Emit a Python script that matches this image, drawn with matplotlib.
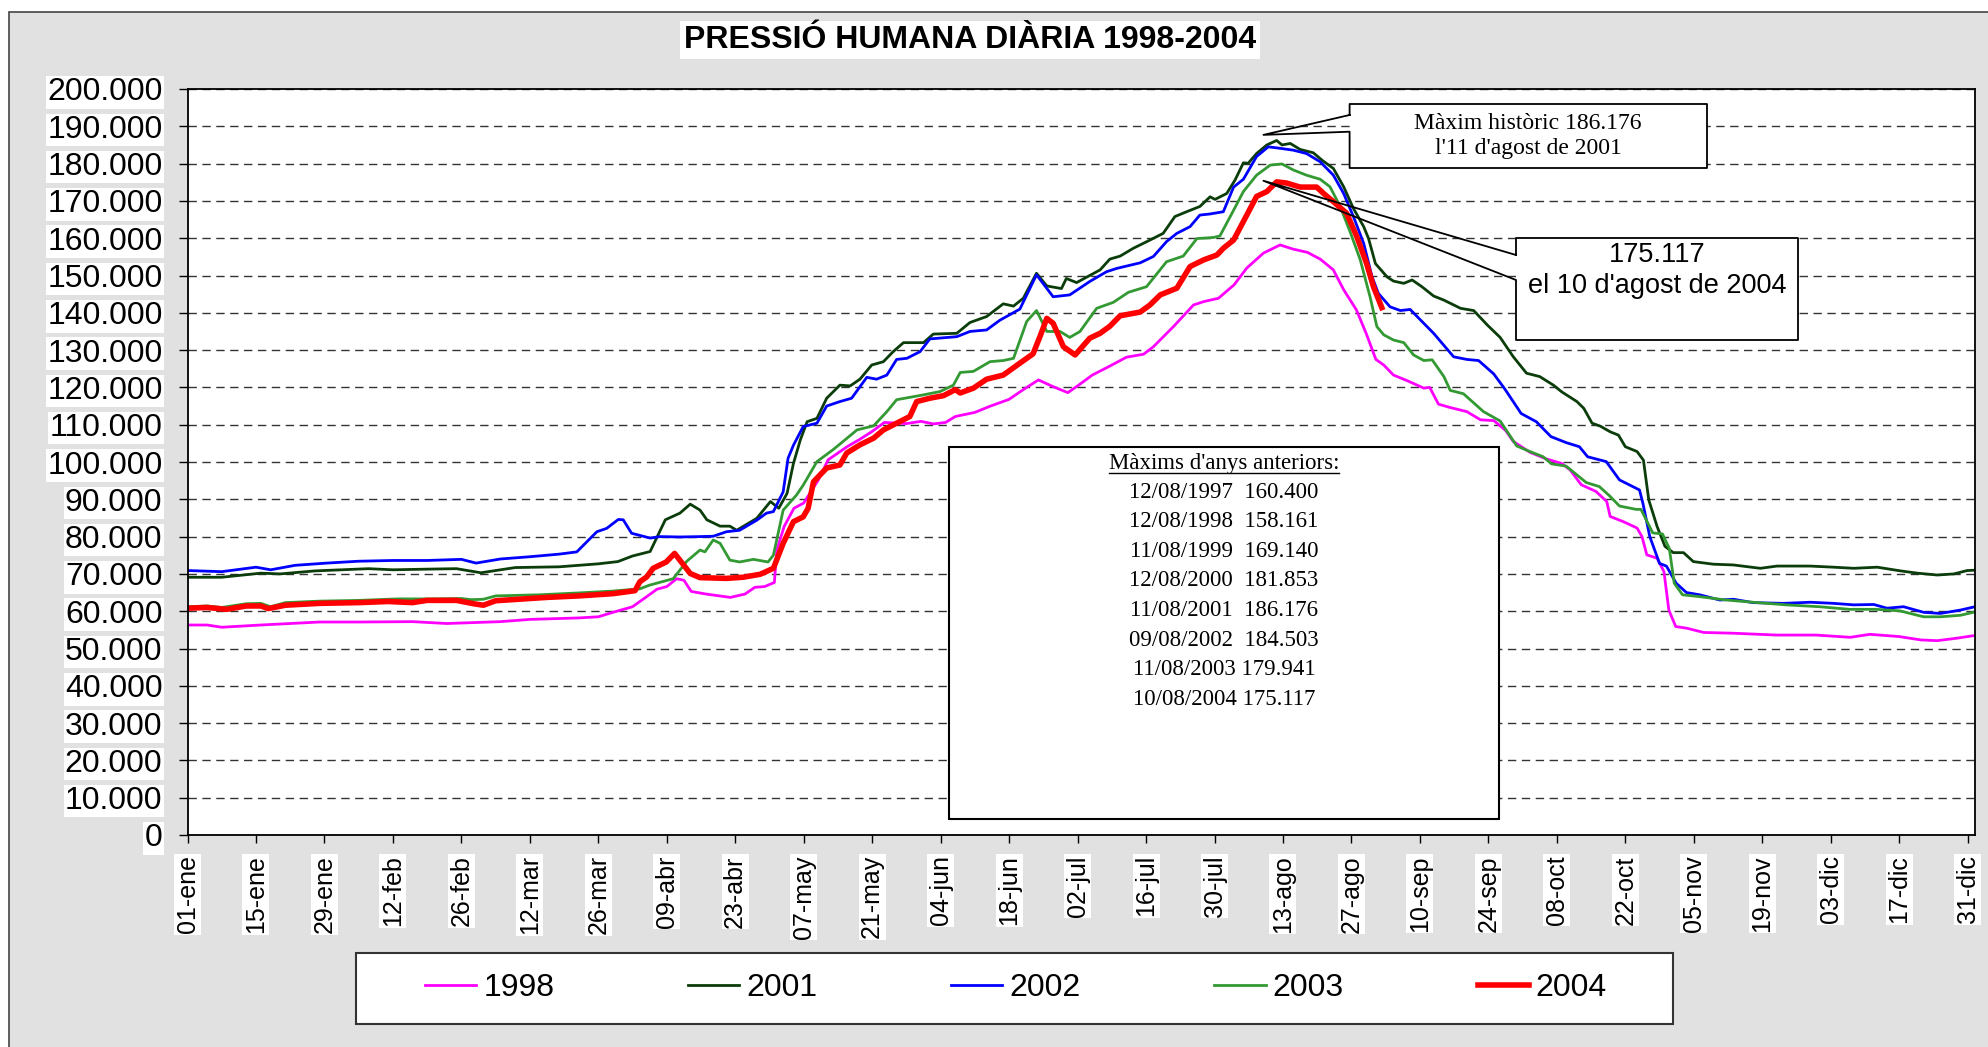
import matplotlib
matplotlib.use("Agg")
import matplotlib.pyplot as plt
from matplotlib.patches import Rectangle
from matplotlib.lines import Line2D
from matplotlib.transforms import Affine2D
from matplotlib.ticker import FuncFormatter

plt.rcParams['font.family'] = ['Liberation Sans', 'DejaVu Sans']
SERIF = ['Liberation Serif', 'DejaVu Serif']

# --- data: (day of year, thousands of people) ---
s1998 = [(0, 56.3), (4, 56.3), (7, 55.7), (15, 56.3), (21, 56.7), (27, 57.1), (35, 57.1), (46, 57.2),
         (53, 56.7), (64, 57.2), (70, 57.8), (80, 58.2), (84, 58.5), (87, 59.7), (91, 61.2), (94, 64.0),
         (96, 65.9), (98, 66.6), (100, 68.7), (101.5, 68.3), (103, 65.3), (106, 64.6), (111, 63.7),
         (114, 64.6), (116, 66.4), (118, 66.6), (120, 67.7), (120.5, 76.4), (122, 82.7), (124, 87.6),
         (126, 89.0), (129, 95.2), (131, 100.6), (135, 104.2), (137.5, 106.1), (140, 108.2), (142.5, 110.6),
         (147, 110.3), (150, 110.9), (152.5, 110.2), (155, 110.6), (157, 112.2), (161, 113.3), (164, 114.9),
         (168, 116.8), (171, 119.5), (174, 122.0), (177, 120.2), (180, 118.6), (182, 120.4), (185, 123.3),
         (189, 126.0), (192, 128.1), (195.5, 128.9), (197.5, 130.9), (201.6, 136.3), (205.7, 142.1),
         (207.8, 143.0), (210.8, 143.9), (214, 147.5), (216.6, 152.0), (220, 156.0), (223.4, 158.2),
         (226, 157.1), (229, 156.2), (231.6, 154.4), (234.3, 151.5), (236.4, 146.2), (239, 140.8),
         (241, 134.5), (243, 127.5), (244.6, 126.0), (246.6, 123.3), (249.4, 121.8), (252.8, 119.8),
         (254, 120.0), (255.8, 115.5), (258.2, 114.6), (261.6, 113.5), (264.4, 111.3), (267.1, 111.1),
         (269.5, 108.5), (271.1, 105.5), (274.5, 102.6), (277.9, 100.8), (281, 99.6), (282.7, 97.9),
         (285, 93.9), (288, 92.1), (290.2, 89.4), (290.9, 85.4), (293.6, 84.0), (296.4, 82.3), (297.4, 80.0),
         (298.4, 75.1), (300.5, 74.2), (301.9, 70.6), (302.9, 60.3), (304.3, 55.9), (306.7, 55.4),
         (310, 54.3), (316, 54.1), (325, 53.6), (333, 53.6), (340, 53.0), (344, 53.8), (350, 53.2),
         (354.4, 52.3), (357.8, 52.1), (362, 52.8), (365, 53.4)]

s2001 = [(0, 69.1), (7, 69.1), (15, 70.2), (19, 70.0), (26, 70.8), (37, 71.4), (42, 71.1), (50, 71.3),
         (55, 71.4), (60, 70.3), (67, 71.7), (76, 71.9), (84, 72.7), (88, 73.3), (91, 74.8), (94.6, 76.0),
         (97.7, 84.5), (100.7, 86.3), (102.8, 88.7), (104.8, 87.1), (106.2, 84.5), (108.9, 82.8),
         (110.9, 82.8), (112.3, 81.7), (116.4, 84.9), (119.2, 89.4), (120.9, 87.6), (122.6, 91.6),
         (123.9, 99.6), (125.3, 105.9), (126.7, 110.8), (128.7, 111.7), (130.7, 117.1), (133.4, 120.6),
         (135.5, 120.4), (137.5, 122.2), (139.9, 126.0), (142.3, 126.9), (144.3, 129.6), (146.4, 132.0),
         (150.5, 132.0), (152.5, 134.3), (157.3, 134.5), (160, 137.4), (163.4, 139.0), (166.8, 142.4),
         (168.9, 141.8), (170.9, 143.9), (173.6, 150.6), (175.7, 147.2), (178.7, 146.5), (179.7, 149.2),
         (181.8, 148.1), (186.6, 151.5), (188.6, 154.4), (190.7, 155.2), (193.4, 157.3), (196.8, 159.5),
         (199.5, 161.3), (201.9, 165.8), (204.3, 167.1), (207, 168.5), (209.1, 171.1), (210.1, 170.4),
         (212.5, 172.0), (214.2, 175.6), (215.9, 180.2), (216.9, 180.1), (218.6, 182.7), (220.7, 185.0),
         (222.7, 186.2), (223.8, 185.0), (225.5, 185.4), (227.5, 183.8), (230.2, 182.9), (232, 180.9),
         (234.3, 178.7), (236.4, 173.8), (238.4, 168.0), (240.5, 163.1), (241.5, 159.9), (242.9, 153.2),
         (245.3, 149.6), (246.6, 148.5), (248.7, 147.9), (250.4, 148.8), (252.4, 147.0), (254.8, 144.5),
         (256.9, 143.4), (260.3, 141.2), (263, 140.6), (265.8, 136.7), (268.4, 133.4), (271.1, 128.2),
         (273.8, 123.8), (276.5, 122.9), (279.3, 120.6), (281, 118.8), (284.1, 116.2), (285.5, 114.4),
         (287.2, 110.4), (288.9, 109.6), (290.9, 108.1), (292.6, 107.2), (294, 104.1), (296.4, 102.8),
         (297.7, 100.5), (298.8, 89.8), (300.5, 82.7), (302.1, 77.4), (303.8, 75.7), (305.9, 75.7),
         (307.9, 73.3), (312, 72.6), (316.1, 72.4), (321.6, 71.5), (325, 72.1), (331.8, 72.1), (336.6, 71.8),
         (340.7, 71.5), (345.5, 71.8), (350.3, 70.8), (353.7, 70.2), (357.8, 69.7), (361.2, 70.0),
         (363.9, 70.9), (365.5, 71.0)]

s2002 = [(0, 70.9), (7, 70.6), (14, 71.8), (17, 71.1), (22, 72.3), (28.5, 72.9), (35, 73.4), (42, 73.6),
         (49, 73.6), (56, 73.9), (59, 72.9), (64, 74.0), (70, 74.6), (76, 75.3), (79.6, 75.9), (83.7, 81.3),
         (85.7, 82.2), (88.1, 84.6), (89.1, 84.5), (90.8, 80.9), (94.6, 79.6), (96.6, 80.0), (100.7, 79.9),
         (104.8, 80.0), (107.5, 80.1), (110.2, 81.3), (112.9, 81.7), (116.4, 84.4), (118.4, 86.3),
         (119.8, 86.7), (121.8, 92.0), (122.8, 101.0), (123.9, 104.5), (125.9, 109.5), (128.7, 110.4),
         (130.7, 115.0), (133.4, 116.2), (135.8, 117.1), (138.9, 122.7), (140.9, 122.2), (143, 123.3),
         (145, 127.5), (147.1, 127.8), (149.8, 129.6), (151.8, 133.0), (157.3, 133.6), (160, 135.0),
         (163.4, 135.4), (166.1, 138.0), (170.2, 141.0), (173.6, 150.2), (177, 144.3), (180.4, 144.8),
         (184.5, 148.4), (187.9, 151.0), (190, 151.9), (194.8, 153.4), (197.5, 155.1), (200.2, 159.1),
         (202.3, 161.3), (205, 163.1), (207, 166.2), (209.1, 166.5), (211.8, 167.1), (213.9, 173.7),
         (215.9, 175.8), (218.6, 181.9), (221, 184.5), (223.4, 184.1), (226.1, 183.6), (228.8, 182.7),
         (231.6, 180.5), (234.3, 176.9), (236.4, 172.0), (238.4, 165.8), (240.5, 158.6), (242.2, 149.7),
         (243.5, 145.2), (245.9, 141.6), (248, 140.6), (250, 140.9), (252.1, 138.1), (254.8, 134.5),
         (258.9, 128.2), (261.6, 127.5), (264, 127.2), (267.1, 123.6), (269.4, 119.5), (272.7, 113.0),
         (275.8, 110.8), (278.8, 106.8), (281.9, 105.2), (284.6, 104.1), (286.3, 101.4), (290.1, 100.1),
         (292.8, 95.2), (296.9, 92.5), (297.6, 88.9), (299, 80.0), (301, 72.8), (302.4, 72.1), (304.4, 67.5),
         (306.5, 65.0), (309.2, 64.4), (313.3, 63.0), (316.1, 63.2), (320.1, 62.3), (326.3, 62.1),
         (331.8, 62.4), (336.6, 62.1), (340.7, 61.7), (344.8, 61.8), (347.5, 60.8), (350.9, 61.2),
         (355, 59.7), (358.4, 59.4), (362.5, 60.3), (365.5, 61.2)]

s2003 = [(0, 61.2), (4, 61.4), (7, 61.0), (12, 62.0), (15, 62.1), (17, 61.2), (20, 62.3), (27, 62.7),
         (35, 62.9), (43, 63.3), (50, 63.3), (56, 63.4), (58, 63.1), (60.5, 63.2), (63, 64.1), (72, 64.4),
         (80, 64.9), (87, 65.4), (92.5, 66.0), (94.5, 67.0), (99.3, 68.7), (102.1, 73.4), (104.8, 76.4),
         (105.8, 75.9), (107.5, 79.1), (108.9, 78.2), (110.9, 73.7), (112.9, 73.2), (115.7, 73.9),
         (118.7, 73.2), (119.8, 75.0), (121.8, 87.1), (124.5, 91.1), (125.9, 93.8), (128.7, 100.1),
         (132.1, 103.4), (136.9, 108.6), (140.3, 109.7), (143, 113.5), (145, 116.7), (150.5, 118.0),
         (153.9, 118.9), (156.6, 120.6), (158, 124.0), (160.7, 124.3), (164.1, 126.9), (166.8, 127.2),
         (168.9, 127.8), (171.6, 137.7), (173.6, 140.6), (175.7, 135.0), (178.4, 135.0), (180.4, 133.4),
         (182.5, 135.0), (185.9, 141.2), (189.3, 142.8), (192.4, 145.5), (196.1, 147.0), (200.2, 153.7),
         (203.6, 155.2), (206.4, 159.9), (209.8, 160.2), (211.1, 160.6), (213.9, 167.5), (215.9, 172.5),
         (218.6, 176.9), (221.4, 179.6), (223.8, 179.9), (226.1, 178.3), (228.8, 176.9), (231.6, 175.8),
         (233.6, 173.8), (235.7, 168.5), (237.7, 161.8), (239.8, 154.2), (241.8, 144.3), (243.2, 136.3),
         (244.6, 134.1), (246.6, 132.7), (248.7, 132.0), (250.7, 128.7), (252.8, 127.2), (254.5, 127.4),
         (256.9, 122.9), (258.2, 119.2), (260.9, 118.3), (265, 113.5), (268.4, 111.0), (271.8, 104.3),
         (274.5, 102.8), (277.2, 101.4), (278.9, 99.5), (281.9, 98.9), (286, 94.5), (288.7, 93.4),
         (290.8, 90.9), (292.8, 88.2), (296.2, 87.3), (297.2, 87.3), (299.6, 81.0), (301.6, 80.7),
         (303, 76.8), (304, 67.5), (305.7, 64.4), (309.2, 63.9), (314.6, 63.0), (320.1, 62.4), (326.9, 61.7),
         (333.7, 61.2), (339.9, 60.5), (345.3, 60.5), (350.1, 60.1), (355, 58.5), (358.4, 58.5),
         (362.5, 58.9), (365.5, 59.8)]

s2004 = [(0, 60.8), (4, 61.0), (8, 60.5), (12, 61.4), (15, 61.4), (16.5, 60.7), (20, 61.6), (27, 62.1),
         (35, 62.3), (41, 62.6), (46, 62.3), (49, 62.9), (55, 62.9), (58.5, 62.0), (60.5, 61.6), (63, 62.8),
         (73.5, 63.7), (80, 64.1), (87, 64.7), (91.5, 65.5), (92.5, 67.9), (93.9, 69.2), (95.2, 71.5),
         (97.9, 73.2), (99.6, 75.5), (102.8, 70.1), (104.8, 69.0), (110.2, 68.8), (113.6, 69.1), (117.1, 69.9),
         (119.8, 71.5), (121.8, 78.2), (123.9, 84.0), (125.9, 85.3), (126.9, 87.6), (128, 94.7), (130.7, 98.4),
         (133.4, 99.2), (134.8, 102.4), (137.5, 104.6), (140.3, 106.4), (142.3, 108.6), (145, 110.4),
         (147.7, 112.2), (149.1, 116.2), (151.8, 117.1), (154.6, 117.8), (157, 119.4), (158, 118.5),
         (160.7, 119.8), (163.4, 122.2), (166.8, 123.3), (170.2, 126.5), (172.9, 129.0), (174.3, 133.6),
         (175.7, 138.5), (177, 137.2), (179.1, 130.9), (181.5, 128.7), (184.5, 133.2), (186.6, 134.5),
         (188.6, 136.4), (190.7, 139.2), (194.8, 140.2), (196.8, 142.1), (198.9, 144.8), (202.3, 146.6),
         (205, 152.4), (207.8, 154.2), (210.5, 155.5), (211.8, 157.3), (213.9, 159.5), (216.6, 166.2),
         (218.6, 171.2), (220.7, 172.5), (222.7, 175.1), (224.7, 174.8), (227.5, 173.7), (230.9, 173.7),
         (232.3, 172.0), (234.3, 169.8), (237, 166.7), (239.1, 160.4), (241.1, 153.2), (242.5, 147.0),
         (244.2, 141.4)]

series = [("1998", s1998, "#ff00ff", 2.0),
          ("2001", s2001, "#0b3d0b", 2.0),
          ("2002", s2002, "#0000ff", 2.0),
          ("2003", s2003, "#339933", 2.0),
          ("2004", s2004, "#ff0000", 4.0)]

tick_days = list(range(0, 365, 14))
tick_labels = ['01-ene', '15-ene', '29-ene', '12-feb', '26-feb', '12-mar', '26-mar', '09-abr', '23-abr',
               '07-may', '21-may', '04-jun', '18-jun', '02-jul', '16-jul', '30-jul', '13-ago', '27-ago',
               '10-sep', '24-sep', '08-oct', '22-oct', '05-nov', '19-nov', '03-dic', '17-dic', '31-dic']

records = ["12/08/1997  160.400", "12/08/1998  158.161", "11/08/1999  169.140", "12/08/2000  181.853",
           "11/08/2001  186.176", "09/08/2002  184.503", "11/08/2003 179.941", "10/08/2004 175.117"]

# --- figure ---
W, H = 1988, 1047
fig = plt.figure(figsize=(W / 100, H / 100), dpi=100, facecolor='white')
# reference-pixel coordinates (origin top-left)
ref = Affine2D().scale(1.0 / W, -1.0 / H).translate(0, 1) + fig.transFigure

fig.add_artist(Rectangle((9, 12), W, H, transform=ref, facecolor='#e1e1e1',
                         edgecolor='#444444', lw=1.2, zorder=-10))

ax = fig.add_axes([187.5 / W, 1 - 835 / H, (1975 - 187.5) / W, (835 - 89) / H])
ax.set_facecolor('white')

lines = []
for name, data, color, lw in series:
    days = [d for d, v in data]
    vals = [v * 1000 for d, v in data]
    ln, = ax.plot(days, vals, color=color, lw=lw, label=name, solid_joinstyle='round')
    lines.append(ln)

ax.set_xlim(0, 365.5)
ax.set_ylim(0, 200000)
ax.set_yticks(range(0, 200001, 10000))
ax.yaxis.set_major_formatter(FuncFormatter(lambda v, p: f"{v:,.0f}".replace(",", ".")))
ax.set_xticks(tick_days)
ax.set_xticklabels(tick_labels, rotation=90)

ax.set_axisbelow(True)
ax.yaxis.grid(True, linestyle=(0, (6, 4)), color='#333333', lw=1.0)
ax.xaxis.grid(False)

ax.tick_params(axis='y', direction='out', length=6.5, width=1, pad=11.5, labelsize=23)
ax.tick_params(axis='x', direction='out', length=6, width=1, pad=8.5, labelsize=18)
for lbl in ax.get_yticklabels() + ax.get_xticklabels():
    lbl.set_bbox(dict(facecolor='white', edgecolor='none', pad=1))
for sp in ax.spines.values():
    sp.set_color('black')
    sp.set_linewidth(1.3)

# title
fig.text(970, 40, "PRESSIÓ HUMANA DIÀRIA 1998-2004", transform=ref, ha='center', va='center',
         fontsize=23, fontweight='bold', bbox=dict(facecolor='white', edgecolor='none', pad=3))


def data_to_ref(x, y):
    dx, dy = ax.transData.transform((x, y))
    return dx, H - dy


def callout(x0, y0, x1, y1, b_top, b_bot, tip):
    fig.add_artist(Rectangle((x0, y0), x1 - x0, y1 - y0, transform=ref, facecolor='white',
                             edgecolor='none', zorder=5))
    tx, ty = tip
    fig.add_artist(Line2D([x0, x0, x1, x1, x0, x0, tx, x0], [b_top, y0, y0, y1, y1, b_bot, ty, b_top],
                          transform=ref, color='black', lw=1.3, zorder=6))


callout(1349.6, 104, 1707, 168, 115, 131.7, data_to_ref(220, 187700))
fig.text(1528, 136, "Màxim històric 186.176\nl'11 d'agost de 2001", transform=ref, ha='center',
         va='center', fontsize=17, family=SERIF, linespacing=1.27, zorder=7)

callout(1516, 238, 1798, 340, 255, 280, data_to_ref(220, 175400))
fig.text(1657, 270.5, "175.117\nel 10 d'agost de 2004", transform=ref, ha='center', va='center',
         fontsize=19.5, linespacing=1.22, zorder=7)

# previous maxima table
fig.add_artist(Rectangle((949, 447), 550, 372, transform=ref, facecolor='white',
                         edgecolor='black', lw=1.5, zorder=5))
header = fig.text(1224, 463, "Màxims d'anys anteriors:", transform=ref, ha='center', va='center',
                  fontsize=16.5, family=SERIF, zorder=7)
for i, row in enumerate(records):
    fig.text(1224, 492 + 29.6 * i, row, transform=ref, ha='center', va='center',
             fontsize=16.5, family=SERIF, zorder=7)

# legend box
fig.add_artist(Rectangle((356, 953), 1317, 71, transform=ref, facecolor='white',
                         edgecolor='#333333', lw=1.5, zorder=5))
leg = fig.legend(lines, [s[0] for s in series], loc='center', ncol=5, frameon=False,
                 bbox_to_anchor=(1016 / W, 1 - 988.5 / H), fontsize=23, handlelength=1.6,
                 handletextpad=0.22, columnspacing=4.19)
leg.set_zorder(7)

fig.canvas.draw()
bb = header.get_window_extent()
fig.add_artist(Line2D([bb.x0, bb.x1], [473, 473], transform=ref, color='black', lw=1.0, zorder=7))

fig.savefig("out.png", dpi=100, facecolor='white')
